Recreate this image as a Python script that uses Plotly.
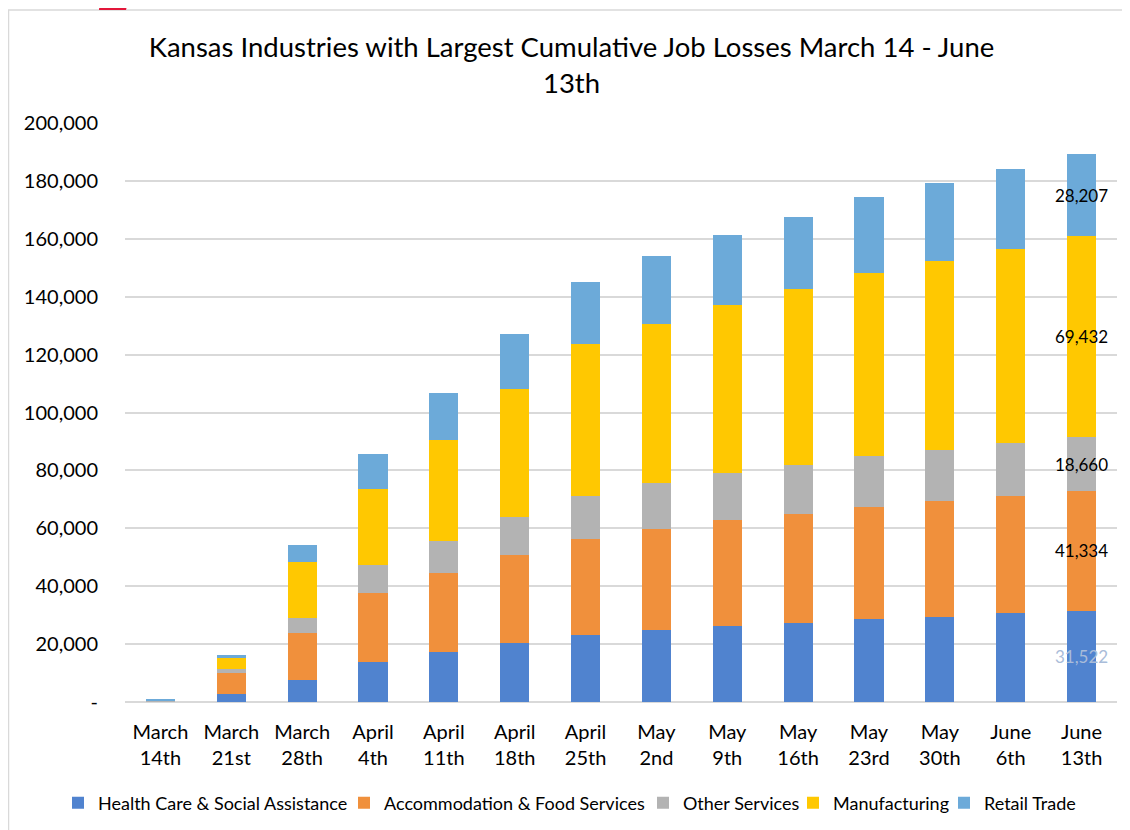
import plotly.graph_objects as go

# week labels (x axis)
weeks = ['March<br>14th', 'March<br>21st', 'March<br>28th', 'April<br>4th',
         'April<br>11th', 'April<br>18th', 'April<br>25th', 'May<br>2nd',
         'May<br>9th', 'May<br>16th', 'May<br>23rd', 'May<br>30th',
         'June<br>6th', 'June<br>13th']

# cumulative job losses by industry (last week is labelled)
health_care = [50, 2900, 7600, 13800, 17200, 20300, 23100, 25000, 26400,
               27300, 28800, 29400, 30600, 31522]
accommodation = [250, 7100, 16300, 23900, 27300, 30500, 33300, 34900, 36500,
                 37800, 38500, 39900, 40400, 41334]
other_services = [50, 1300, 5000, 9700, 11200, 13200, 14600, 15600, 16300,
                  16800, 17700, 17800, 18300, 18660]
manufacturing = [250, 3800, 19500, 26200, 34900, 44100, 52500, 55100, 57900,
                 60700, 63300, 65400, 67300, 69432]
retail_trade = [150, 1300, 5800, 12200, 16100, 19100, 21500, 23300, 24200,
                25000, 26000, 26800, 27600, 28207]

y_ticks = [0, 20000, 40000, 60000, 80000, 100000, 120000, 140000, 160000,
           180000, 200000]
y_tick_text = ['-'] + ['{:,}'.format(v) for v in y_ticks[1:]]

FONT = 'Lato, "Open Sans", sans-serif'

# plot area in figure pixels (page adds 8px body margin)
L, T, W, H = 117, 115, 992, 579


def px_x(x):
    return (x - L) / W


def px_y(y):
    return (T + H - y) / H


# name, values, bar colour, label colour, legend x (left of legend box)
series = [
    ('Health Care & Social Assistance', health_care, '#5083cf', '#a9bcd9', 50),
    ('Accommodation & Food Services', accommodation, '#f0903c', '#000000', 336),
    ('Other Services', other_services, '#b3b3b3', '#000000', 635),
    ('Manufacturing', manufacturing, '#ffc801', '#000000', 785),
    ('Retail Trade', retail_trade, '#6caad9', '#000000', 936),
]

fig = go.Figure()
legends = {}
for i, (name, vals, color, label_color, lx) in enumerate(series):
    # only the last week gets a data label
    labels = [''] * (len(vals) - 1) + ['{:,}'.format(vals[-1])]
    leg = 'legend' if i == 0 else 'legend%d' % (i + 1)
    fig.add_trace(go.Bar(
        x=weeks, y=vals, name=name, legend=leg, showlegend=True,
        marker=dict(color=color, line=dict(width=0)),
        text=labels, textposition='inside', insidetextanchor='middle',
        constraintext='none', textangle=0,
        textfont=dict(family=FONT, size=17, color=label_color),
        hoverinfo='x+y+name',
    ))
    legends[leg] = dict(
        orientation='h', x=px_x(lx), xanchor='left',
        y=px_y(795), yanchor='middle',
        font=dict(family=FONT, size=18, color='#000000'),
        itemwidth=30, bgcolor='rgba(0,0,0,0)',
    )

fig.update_layout(
    barmode='stack',
    bargap=0.59,
    showlegend=True,
    width=1130, height=830,
    margin=dict(l=L, r=1130 - L - W, t=T, b=830 - T - H, autoexpand=False),
    paper_bgcolor='white', plot_bgcolor='white',
    font=dict(family=FONT, color='#000000'),
    title=dict(
        text='Kansas Industries with Largest Cumulative Job Losses March 14 - June<br>13th',
        x=0.4987, xref='container', xanchor='center',
        y=0.941, yref='container', yanchor='top',
        font=dict(family=FONT, size=27.5, color='#000000'),
    ),
    uniformtext=dict(minsize=17, mode='show'),
    shapes=[
        # outer chart border
        dict(type='rect', xref='paper', yref='paper',
             x0=px_x(0.5), x1=1.05, y0=-0.25, y1=px_y(2),
             line=dict(color='#d9d9d9', width=1.5), fillcolor='rgba(0,0,0,0)',
             layer='below'),
        # red slash peeking in at the top
        dict(type='path', xref='paper', yref='paper',
             path='M {} {} L {} {} L {} {} L {} {} Z'.format(
                 px_x(92), px_y(-10), px_x(121), px_y(-10),
                 px_x(118), px_y(2), px_x(91), px_y(2)),
             fillcolor='#e3163a', line=dict(width=0)),
    ],
    **legends,
)

fig.update_xaxes(
    tickfont=dict(family=FONT, size=20, color='#000000'),
    showgrid=False, showline=False, ticks='', ticklabelstandoff=16,
)
fig.update_yaxes(
    range=[0, 200000], tickvals=y_ticks, ticktext=y_tick_text,
    tickfont=dict(family=FONT, size=20, color='#000000'),
    showgrid=True, gridcolor='#d9d9d9', gridwidth=1.5,
    zeroline=True, zerolinecolor='#d9d9d9', zerolinewidth=1.5,
    ticks='', ticklabelstandoff=26,
)

fig.write_html('out.html')
